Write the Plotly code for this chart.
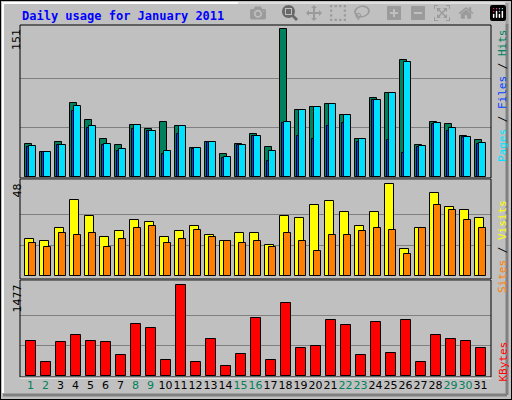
import plotly.graph_objects as go

days = list(range(1, 32))
hits = [34,25,35.5,76,58,39,32,53,48.5,56,52,29,36,23,34,44,30,151,68,71,75,63,39,81,86,120,33,56,54,42,38]
files = [30,25,32,67,49.5,33,26,48.5,46.5,23,44,28,36,19,33,42,16,55,42,39,52,55,36,79,38,24,30,54,46.5,41,34]
pages = [31,25,33,72,52,34,28,53,46.5,26,52,29,36,20,33,42,26,56,68,71,75,63,39,79,86,118,31,55,49.5,41,35]
visits = [19.3,18.3,25,40,31.3,20.3,23.5,29.2,28.2,20.3,23.5,26,21.4,18.3,22.4,22.4,16.2,31.3,30.3,37,39,33.4,26,33.4,48,14,25,43.3,36,34.4,30.3]
sites = [17.2,15.1,22.4,21.4,22.4,15.1,19.3,25,26,17.2,19.3,24,20.3,18.3,17.2,18.3,15.1,22.4,18.3,13,21.4,21.4,23.5,25,24,11.5,25,37,34.4,29.2,25]
kbytes = [571,216,555,668,571,555,345,846,782,264,1477,232,604,151,361,943,264,1186,458,490,911,830,345,879,377,911,216,668,604,571,458]
weekend = {1,2,8,9,15,16,22,23,29,30}

W, H = 512, 400
def py(p): return 1 - p / H
def px(p): return p / W

fig = go.Figure()
line = dict(color="black", width=1)
def bar(y, color, off, wid, ax):
    fig.add_trace(go.Bar(x=days, y=y, marker=dict(color=color, line=line), offset=off, width=wid,
                         xaxis=ax[0], yaxis=ax[1], showlegend=False, hoverinfo="skip"))

bar(hits, "#00805c", -0.35, 0.47, ("x", "y"))
bar(pages, "#00e0ff", -0.09, 0.47, ("x", "y"))
bar(files, "#0040ff", -0.21, 0.13, ("x", "y"))
bar(visits, "#ffff00", -0.35, 0.6, ("x2", "y2"))
bar(sites, "#ff8000", -0.09, 0.47, ("x2", "y2"))
bar(kbytes, "#ff0000", -0.28, 0.67, ("x3", "y3"))

xr = [0.3, 31.7]
xd = [px(20), px(491)]
ticktext = [f'<span style="color:{"#00805c" if d in weekend else "black"}">{d}</span>' for d in days]
common_x = dict(range=xr, domain=xd, showgrid=False, zeroline=False, showline=False, fixedrange=True)
fig.update_layout(
    width=W, height=H, margin=dict(l=0, r=0, t=0, b=0),
    paper_bgcolor="#c0c0c0", plot_bgcolor="#c0c0c0", barmode="overlay", bargap=0,
    font=dict(family="DejaVu Sans", size=11, color="black"),
    xaxis=dict(**common_x, anchor="y", showticklabels=False),
    xaxis2=dict(**common_x, anchor="y2", showticklabels=False),
    xaxis3=dict(**common_x, anchor="y3", tickvals=days, ticktext=ticktext, ticks="", tickangle=0,
                tickfont=dict(size=11)),
    yaxis=dict(range=[-1.3, 155.4], domain=[py(178), py(25)], tickvals=[151/3, 302/3], showticklabels=False,
               gridcolor="#808080", zeroline=False),
    yaxis2=dict(range=[-1.4, 50.2], domain=[py(279), py(180)], tickvals=[16, 32], showticklabels=False,
                gridcolor="#808080", zeroline=False),
    yaxis3=dict(range=[-21, 1563], domain=[py(377), py(280)], tickvals=[1477/3, 2954/3], showticklabels=False,
                gridcolor="#808080", zeroline=False),
)

for top, bot in [(25, 178), (179, 279), (280, 377)]:
    fig.add_shape(type="rect", xref="paper", yref="paper", x0=px(20), x1=px(491), y0=py(bot), y1=py(top),
                  line=dict(color="black", width=1), layer="above")
    fig.add_shape(type="line", xref="paper", yref="paper", x0=px(20), x1=px(491), y0=py(bot + 1), y1=py(bot + 1),
                  line=dict(color="white", width=1))
fig.add_shape(type="rect", xref="paper", yref="paper", x0=0, x1=1, y0=0, y1=1, line=dict(color="black", width=2))
fig.add_shape(type="line", xref="paper", yref="paper", x0=px(2), x1=px(505), y0=py(3), y1=py(3), line=dict(color="white", width=2))
fig.add_shape(type="line", xref="paper", yref="paper", x0=px(3), x1=px(3), y0=py(393), y1=py(3), line=dict(color="white", width=2))
fig.add_shape(type="line", xref="paper", yref="paper", x0=px(3), x1=px(507), y0=py(395), y1=py(395), line=dict(color="#808080", width=3))
fig.add_shape(type="line", xref="paper", yref="paper", x0=px(507), x1=px(507), y0=py(395), y1=py(3), line=dict(color="#808080", width=3))

ann = [
    dict(x=px(20), y=py(7), text="<b>Daily usage for January 2011</b>", xanchor="left", yanchor="top",
         font=dict(family="DejaVu Sans Mono", size=12, color="#0000ff")),
    dict(x=px(8), y=py(27), text="151", textangle=-90, xanchor="left", yanchor="top", font=dict(size=11)),
    dict(x=px(8), y=py(182), text="48", textangle=-90, xanchor="left", yanchor="top", font=dict(size=11)),
    dict(x=px(8), y=py(283), text="1477", textangle=-90, xanchor="left", yanchor="top", font=dict(size=11)),
    dict(x=px(494), y=py(27), textangle=-90, xanchor="left", yanchor="top",
         text='<span style="color:#00e0ff">Pages</span> / <span style="color:#0040ff">Files</span> / <span style="color:#00805c">Hits</span>',
         font=dict(family="DejaVu Sans Mono", size=11)),
    dict(x=px(494), y=py(198), textangle=-90, xanchor="left", yanchor="top",
         text='<span style="color:#ff8000">Sites</span> / <span style="color:#ffff00">Visits</span>',
         font=dict(family="DejaVu Sans Mono", size=11)),
    dict(x=px(494), y=py(340), textangle=-90, xanchor="left", yanchor="top",
         text='<span style="color:#ff0000">KBytes</span>', font=dict(family="DejaVu Sans Mono", size=11)),
]
for a in ann:
    a.update(xref="paper", yref="paper", showarrow=False)
fig.update_layout(annotations=ann)

fig.write_html("out.html", post_script="document.body.style.margin='0';")
